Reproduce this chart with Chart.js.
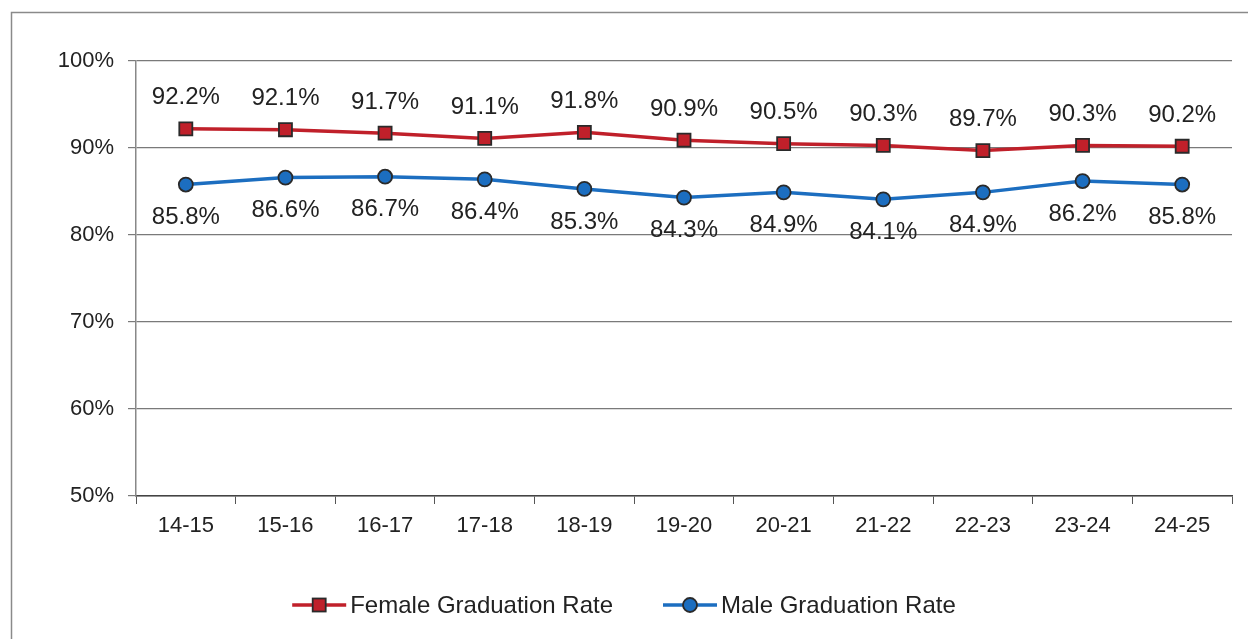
<!DOCTYPE html>
<html><head><meta charset="utf-8">
<script src="https://cdn.jsdelivr.net/npm/chart.js@4.4.1/dist/chart.umd.min.js"></script>
<style>html,body{margin:0;padding:0;background:#fff;}#wrap{width:1248px;height:639px;}</style>
</head><body><div id="wrap"><canvas id="c" width="1248" height="639"></canvas></div>
<script>
const categories = ['14-15','15-16','16-17','17-18','18-19','19-20','20-21','21-22','22-23','23-24','24-25'];
const femaleRates = [92.2,92.1,91.7,91.1,91.8,90.9,90.5,90.3,89.7,90.3,90.2];
const maleRates = [85.8,86.6,86.7,86.4,85.3,84.3,84.9,84.1,84.9,86.2,85.8];
const seriesNames = ['Female Graduation Rate','Male Graduation Rate'];
const yTicks = [50,60,70,80,90,100];

const RED = '#C0202A', BLUE = '#1C6EC0', EDGE = '#2a2a2a', TXT = '#222';
const FONT = '"Liberation Sans", Arial, sans-serif';

const framePlugin = {
  id: 'frame',
  beforeDraw(chart) {
    const ctx = chart.ctx;
    ctx.save();
    ctx.fillStyle = '#fff';
    ctx.fillRect(0,0,chart.width,chart.height);
    ctx.strokeStyle = '#8a8a8a';
    ctx.lineWidth = 1.5;
    ctx.beginPath();
    ctx.moveTo(11.5, chart.height);
    ctx.lineTo(11.5, 12.5);
    ctx.lineTo(chart.width, 12.5);
    ctx.stroke();
    ctx.restore();
  }
};

const labelPlugin = {
  id: 'valLabels',
  afterDatasetsDraw(chart) {
    const ctx = chart.ctx;
    ctx.save();
    ctx.font = '24px ' + FONT;
    ctx.fillStyle = TXT;
    ctx.textAlign = 'center';
    ctx.textBaseline = 'middle';
    chart.data.datasets.forEach((ds, di) => {
      const meta = chart.getDatasetMeta(di);
      meta.data.forEach((pt, i) => {
        const txt = ds.data[i].toFixed(1) + '%';
        const y = di === 0 ? pt.y - 31 : pt.y + 33;
        ctx.fillText(txt, pt.x, y);
      });
    });
    ctx.restore();
  }
};

function drawMarker(ctx, type, x, y) {
  ctx.lineWidth = 1.8;
  ctx.strokeStyle = EDGE;
  if (type === 'rect') {
    ctx.fillStyle = RED;
    ctx.fillRect(x-6.5, y-6.5, 13, 13);
    ctx.strokeRect(x-6.5, y-6.5, 13, 13);
  } else {
    ctx.fillStyle = BLUE;
    ctx.beginPath(); ctx.arc(x, y, 7, 0, Math.PI*2); ctx.fill(); ctx.stroke();
  }
}

const legendPlugin = {
  id: 'customLegend',
  afterDraw(chart) {
    const ctx = chart.ctx;
    ctx.save();
    ctx.font = '24px ' + FONT;
    const items = [
      {name: seriesNames[0], color: RED, marker: 'rect'},
      {name: seriesNames[1], color: BLUE, marker: 'circle'}
    ];
    const lineW = 54, tgap = 4, gap = 50;
    const widths = items.map(it => lineW + tgap + ctx.measureText(it.name).width);
    const total = widths[0] + widths[1] + gap;
    let x = (chart.width - total) / 2;
    const y = 605;
    items.forEach((it, i) => {
      ctx.strokeStyle = it.color; ctx.lineWidth = 3.5;
      ctx.beginPath(); ctx.moveTo(x, y); ctx.lineTo(x + lineW, y); ctx.stroke();
      drawMarker(ctx, it.marker, x + lineW/2, y);
      ctx.fillStyle = TXT; ctx.textAlign = 'left'; ctx.textBaseline = 'middle';
      ctx.fillText(it.name, x + lineW + tgap, y + 1);
      x += widths[i] + gap;
    });
    ctx.restore();
  }
};

new Chart(document.getElementById('c'), {
  type: 'line',
  data: {
    labels: categories,
    datasets: [
      { label: seriesNames[0], data: femaleRates, borderColor: RED, borderWidth: 3.5,
        pointStyle: 'rect', pointRadius: 9.2, pointBackgroundColor: RED, pointBorderColor: EDGE,
        pointBorderWidth: 1.8, tension: 0 },
      { label: seriesNames[1], data: maleRates, borderColor: BLUE, borderWidth: 3.5,
        pointStyle: 'circle', pointRadius: 7, pointBackgroundColor: BLUE, pointBorderColor: EDGE,
        pointBorderWidth: 1.8, tension: 0 }
    ]
  },
  options: {
    responsive: false,
    animation: false,
    devicePixelRatio: 1,
    layout: { padding: { left: 0, top: 61, right: 16, bottom: 83 } },
    plugins: { legend: { display: false }, tooltip: { enabled: false } },
    scales: {
      x: {
        offset: true,
        grid: { offset: true, drawOnChartArea: false, drawTicks: true, tickLength: 8, color: '#555', lineWidth: 1 },
        border: { color: '#444', width: 1.5 },
        ticks: { font: { family: FONT, size: 22 }, color: TXT, padding: 9, maxRotation: 0 },
        afterFit(s) { s.height = 60; }
      },
      y: {
        min: 50, max: 100,
        afterBuildTicks(s) { s.ticks = yTicks.map(v => ({ value: v })); },
        grid: { color: '#7a7a7a', lineWidth: 1.2, tickLength: 8 },
        border: { color: '#888', width: 1.5 },
        ticks: { font: { family: FONT, size: 22 }, color: TXT, padding: 14, callback: v => v + '%' },
        afterFit(s) { s.width = 136; }
      }
    }
  },
  plugins: [framePlugin, labelPlugin, legendPlugin]
});
</script></body></html>
